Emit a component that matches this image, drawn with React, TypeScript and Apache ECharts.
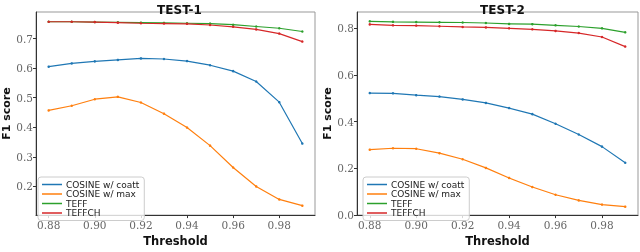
import React, { useEffect, useRef } from "react";
import * as echarts from "echarts";

const thresholds = [0.88, 0.89, 0.9, 0.91, 0.92, 0.93, 0.94, 0.95, 0.96, 0.97, 0.98, 0.99];
const seriesNames = ["COSINE w/ coatt", "COSINE w/ max", "TEFF", "TEFFCH"];
const colors = ["#1f77b4", "#ff7f0e", "#2ca02c", "#d62728"];

// TEST-1
const t1Coatt = [0.605, 0.616, 0.623, 0.628, 0.633, 0.631, 0.624, 0.61, 0.59, 0.555, 0.485, 0.345];
const t1Max = [0.457, 0.473, 0.495, 0.503, 0.484, 0.446, 0.399, 0.338, 0.264, 0.2, 0.156, 0.135];
const t1Teff = [0.757, 0.757, 0.756, 0.755, 0.754, 0.753, 0.752, 0.751, 0.747, 0.741, 0.735, 0.724];
const t1Teffch = [0.757, 0.757, 0.756, 0.754, 0.752, 0.751, 0.75, 0.746, 0.74, 0.731, 0.717, 0.69];

// TEST-2
const t2Coatt = [0.522, 0.521, 0.513, 0.507, 0.495, 0.48, 0.458, 0.432, 0.391, 0.345, 0.293, 0.224];
const t2Max = [0.28, 0.286, 0.284, 0.265, 0.239, 0.202, 0.159, 0.12, 0.087, 0.063, 0.045, 0.036];
const t2Teff = [0.829, 0.827, 0.826, 0.825, 0.824, 0.822, 0.818, 0.817, 0.812, 0.807, 0.799, 0.782];
const t2Teffch = [0.816, 0.812, 0.811, 0.808, 0.805, 0.803, 0.799, 0.795, 0.788, 0.779, 0.762, 0.721];

const xTicks = [0.88, 0.9, 0.92, 0.94, 0.96, 0.98];
const y1Ticks = [0.2, 0.3, 0.4, 0.5, 0.6, 0.7];
const y2Ticks = [0.0, 0.2, 0.4, 0.6, 0.8];

const panelTitles = ["TEST-1", "TEST-2"];
const xAxisName = "Threshold";
const yAxisName = "F1 score";

export default function App() {
  const ref = useRef<HTMLDivElement>(null);
  useEffect(() => {
    if (!ref.current) return;
    const chart = echarts.init(ref.current, undefined, { renderer: "svg" });
    const sans = "DejaVu Sans";
    const serif = "DejaVu Serif";
    const grids = [
      { left: 34, top: 12, width: 281, height: 213 },
      { left: 357, top: 12, width: 281, height: 213 },
    ];
    const yRanges = [
      { min: 0.103, max: 0.79, ticks: y1Ticks, dec: 1 },
      { min: 0.0, max: 0.869, ticks: y2Ticks, dec: 1 },
    ];
    const data = [
      [t1Coatt, t1Max, t1Teff, t1Teffch],
      [t2Coatt, t2Max, t2Teff, t2Teffch],
    ];
    const series: any[] = [];
    data.forEach((panel, gi) => {
      panel.forEach((vals, si) => {
        series.push({
          type: "line",
          name: seriesNames[si],
          xAxisIndex: gi,
          yAxisIndex: gi,
          data: thresholds.map((t, i) => [t, vals[i]]),
          symbol: "circle",
          symbolSize: 2.5,
          lineStyle: { width: 1.2, color: colors[si] },
          itemStyle: { color: colors[si] },
          z: 2 + si,
        });
      });
    });
    const axisLineStyle = { color: "#333", width: 1 };
    chart.setOption({
      animation: false,
      color: colors,
      grid: grids.map((g) => ({ ...g, show: true, borderColor: "#999", borderWidth: 1, backgroundColor: "transparent" })),
      title: panelTitles.map((t, i) => ({
        text: t,
        left: grids[i].left + grids[i].width / 2,
        textAlign: "center",
        top: -1.5,
        textStyle: { fontFamily: sans, fontWeight: "bold", fontSize: 12, color: "#111" },
      })),
      xAxis: grids.map((g, i) => ({
        type: "value",
        gridIndex: i,
        min: 0.8745,
        max: 0.9955,
        splitLine: { show: false },
        axisLine: { show: true, lineStyle: axisLineStyle },
        axisTick: { show: true, length: 3, customValues: xTicks, lineStyle: axisLineStyle },
        axisLabel: {
          customValues: xTicks,
          formatter: (v: number) => v.toFixed(2),
          fontFamily: serif,
          fontSize: 10.5,
          color: "#666",
          margin: 4,
        },
        name: xAxisName,
        nameLocation: "middle",
        nameGap: 16,
        nameTextStyle: { fontFamily: sans, fontWeight: "bold", fontSize: 11.5, color: "#111" },
      })),
      yAxis: grids.map((g, i) => ({
        type: "value",
        gridIndex: i,
        min: yRanges[i].min,
        max: yRanges[i].max,
        splitLine: { show: false },
        axisLine: { show: true, lineStyle: axisLineStyle },
        axisTick: { show: true, length: 3, customValues: yRanges[i].ticks, lineStyle: axisLineStyle },
        axisLabel: {
          customValues: yRanges[i].ticks,
          formatter: (v: number) => v.toFixed(yRanges[i].dec),
          fontFamily: serif,
          fontSize: 10.5,
          color: "#666",
          margin: 3,
        },
        name: yAxisName,
        nameLocation: "middle",
        nameGap: 24,
        nameTextStyle: { fontFamily: sans, fontWeight: "bold", fontSize: 11, color: "#111" },
      })),
      legend: [
        { left: 38, top: 177 },
        { left: 363, top: 177 },
      ].map((p) => ({
        ...p,
        orient: "vertical",
        data: seriesNames,
        icon: "rect",
        itemWidth: 20,
        itemHeight: 1.5,
        itemGap: 0.5,
        selectedMode: false,
        padding: [3, 5, 3, 4],
        borderColor: "#ccc",
        borderWidth: 1,
        borderRadius: 3,
        backgroundColor: "rgba(255,255,255,0.8)",
        textStyle: { fontFamily: sans, fontSize: 9, color: "#222", padding: [0, 0, 0, -1] },
      })),
      series,
    });
    return () => chart.dispose();
  }, []);
  return <div ref={ref} style={{ position: "fixed", left: 0, top: 0, width: 640, height: 252 }} />;
}
